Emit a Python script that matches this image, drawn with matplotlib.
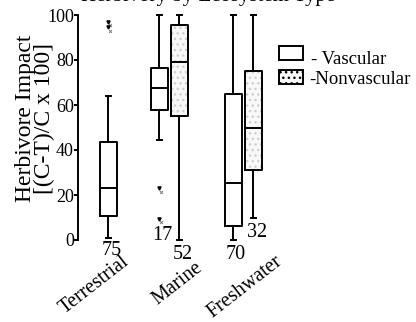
import matplotlib.pyplot as plt
from matplotlib.patches import Rectangle

plt.rcParams["font.family"] = ["Liberation Serif", "DejaVu Serif"]
plt.rcParams["hatch.linewidth"] = 1.0

# box stats
ecosystems = ["Terrestrial", "Marine", "Freshwater"]
labels = ["Vascular", "Vascular", "Nonvascular", "Vascular", "Nonvascular"]
groups = ["Terrestrial", "Marine", "Marine", "Freshwater", "Freshwater"]
whislo = [1, 44.5, 0, 0, 10]
q1 = [10.7, 58, 55.3, 6.4, 31.2]
med = [23.3, 67.7, 79.3, 25.4, 50]
q3 = [43.6, 76.6, 95.5, 65, 75]
whishi = [64, 100, 100, 100, 100]
fliers = [[97, 94.5], [23, 9.5], [], [], []]
n_obs = [75, 17, 52, 70, 32]

# layout (x units ~ 20 px)
positions = [1.5, 4.05, 5.05, 7.75, 8.75]
n_pos = [(1.7, -4.5), (4.2, 2.0), (5.25, -6.5), (7.9, -6.5), (8.95, 3.5)]
label_pos = [(0.8, -20), (5.0, -19.5), (8.35, -21)]

stats = []
for i in range(len(labels)):
    stats.append(dict(whislo=whislo[i], q1=q1[i], med=med[i], q3=q3[i],
                      whishi=whishi[i], fliers=[]))

fig = plt.figure(figsize=(4.16, 3.22), dpi=100)
ax = fig.add_axes([78 / 416, 82 / 322, 197 / 416, 225 / 322])

nv = [i for i, l in enumerate(labels) if l == "Nonvascular"]
ax.bxp([stats[i] for i in nv], positions=[positions[i] for i in nv],
       widths=0.85, patch_artist=True, showcaps=False,
       boxprops=dict(facecolor="#f8f8f8", edgecolor="#cfcfcf",
                     hatch="...", linewidth=0),
       whiskerprops=dict(linewidth=0), medianprops=dict(linewidth=0))

line_kw = dict(color="black", linewidth=1.4)
ax.bxp(stats, positions=positions, widths=0.85, capwidths=0.25,
       boxprops=line_kw, whiskerprops=line_kw, capprops=line_kw,
       medianprops=line_kw)

for i, fl in enumerate(fliers):
    for v in fl:
        ax.plot(positions[i], v, marker="v", ms=2.3, color="black", clip_on=False)
        ax.plot(positions[i] + 0.12, v - 1.5, marker="x", ms=2.0, mew=0.7,
                color="#777777", clip_on=False)

for (x, y), n in zip(n_pos, n_obs):
    ax.text(x, y, str(n), ha="center", va="center", fontsize=14.5)

for (x, y), name in zip(label_pos, ecosystems):
    ax.text(x, y, name, rotation=38, ha="center", va="center", fontsize=14.5,
            rotation_mode="anchor")

for c in ax.get_children():
    if hasattr(c, "set_clip_on"):
        c.set_clip_on(False)

ax.set_xlim(0, 9.85)
ax.set_ylim(0, 100)
ax.set_yticks([0, 20, 40, 60, 80, 100])
ax.set_xticks([])
ax.tick_params(axis="y", direction="out", length=3, width=1.4, labelsize=13, pad=0)
for s in ["top", "right", "bottom"]:
    ax.spines[s].set_visible(False)
ax.spines["left"].set_linewidth(1.4)
ax.set_ylabel("Herbivore Impact\n[(C-T)/C x 100]", fontsize=17, linespacing=0.9)
ax.yaxis.set_label_coords(-0.115, 0.54)

# legend drawn by hand
fig.patches.append(Rectangle((279 / 416, 1 - 60 / 322), 24 / 416, 14 / 322,
                             transform=fig.transFigure, facecolor="white",
                             edgecolor="black", linewidth=1.4))
fig.patches.append(Rectangle((279 / 416, 1 - 84 / 322), 24 / 416, 14 / 322,
                             transform=fig.transFigure, facecolor="#f8f8f8",
                             edgecolor="black", linewidth=1.4, hatch="..."))
fig.text(311 / 416, 1 - 59 / 322, "- Vascular", fontsize=13.5, va="center")
fig.text(309 / 416, 1 - 80 / 322, "-Nonvascular", fontsize=13.5, va="center")

fig.text(208 / 416, 1 - 1.5 / 322, "Herbivory by Ecosystem Type", fontsize=15,
         ha="center", va="baseline")

fig.savefig("out.png", dpi=100)
